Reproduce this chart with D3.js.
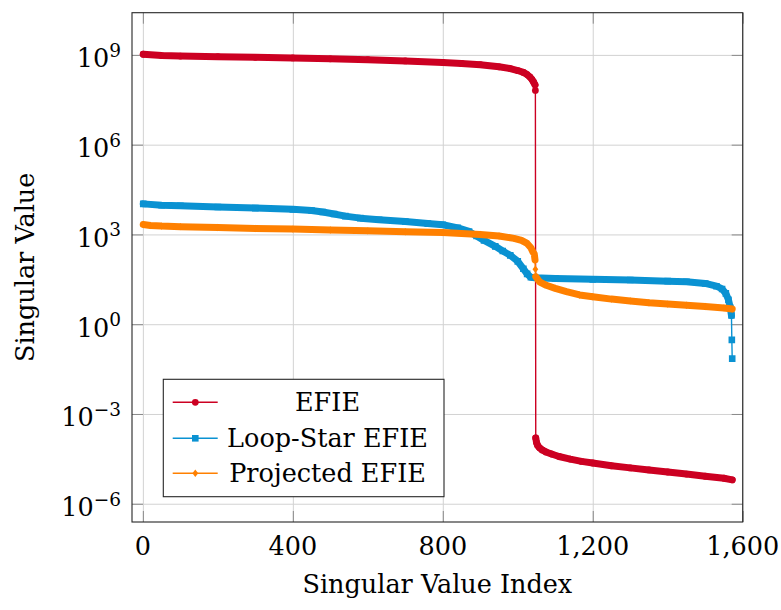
<!DOCTYPE html>
<html>
<head>
<meta charset="utf-8">
<script src="https://cdn.jsdelivr.net/npm/d3@7"></script>
<style>
  html, body { margin: 0; padding: 0; background: #fff; }
  svg { display: block; }
</style>
</head>
<body>
<svg id="chart" width="781" height="610"></svg>
<script>
// Singular value spectra (index, value) of the three formulations
const efieIdx = [1, 50, 100, 200, 300, 400, 500, 600, 700, 800, 850, 900, 950, 980, 1000, 1015, 1025, 1032, 1038, 1042, 1046, 1047,
  1048, 1050, 1053, 1058, 1065, 1075, 1090, 1110, 1140, 1170, 1200, 1250, 1300, 1350, 1400, 1450, 1500, 1550, 1572];
const efieVal = [1.05e9, 9.5e8, 9.1e8, 8.7e8, 8.3e8, 7.9e8, 7.4e8, 6.9e8, 6.3e8, 5.6e8, 5.2e8, 4.7e8, 4.0e8, 3.5e8, 3.0e8, 2.6e8, 2.2e8, 1.85e8, 1.5e8, 1.25e8, 1.0e8, 6.5e7,
  1.58e-4, 1.12e-4, 8.9e-5, 7.4e-5, 6.3e-5, 5.4e-5, 4.6e-5, 3.8e-5, 3.1e-5, 2.6e-5, 2.3e-5, 1.86e-5, 1.58e-5, 1.35e-5, 1.15e-5, 9.8e-6, 8.3e-6, 7.1e-6, 6.3e-6];

const loopIdx = [1, 50, 100, 200, 300, 400, 450, 480, 510, 540, 580, 630, 700, 760, 800, 840, 870, 890, 910, 940, 960, 980, 1000, 1015, 1025, 1035, 1045,
  1100, 1200, 1300, 1400, 1450, 1500, 1530, 1545, 1555, 1562, 1567, 1570, 1571, 1572];
const loopVal = [1.05e4, 9.5e3, 9.1e3, 8.3e3, 7.6e3, 6.9e3, 6.3e3, 5.6e3, 4.8e3, 4.1e3, 3.5e3, 3.1e3, 2.7e3, 2.3e3, 2.1e3, 1.66e3, 1.26e3, 890, 630, 400, 280, 200, 126, 71, 48, 37, 35.5,
  34, 31.6, 30, 27.5, 26.3, 23, 18.6, 15.1, 10.7, 6.6, 3.5, 1.95, 0.3, 0.071];

const projIdx = [1, 20, 50, 100, 200, 300, 400, 500, 600, 700, 800, 900, 950, 990, 1010, 1025, 1035, 1041, 1044, 1046, 1047, 1048,
  1053, 1058, 1076, 1100, 1130, 1165, 1200, 1250, 1300, 1350, 1400, 1450, 1500, 1550, 1572];
const projVal = [2.14e3, 2.0e3, 1.9e3, 1.82e3, 1.7e3, 1.58e3, 1.51e3, 1.41e3, 1.32e3, 1.23e3, 1.15e3, 1.0e3, 890, 740, 630, 500, 360, 250, 224, 141, 69, 39,
  32, 26, 20, 15.8, 12.3, 9.5, 8.3, 6.9, 6.0, 5.2, 4.7, 4.3, 3.9, 3.5, 3.2];

const seriesNames = ["EFIE", "Loop-Star EFIE", "Projected EFIE"];
const seriesColors = ["#cc0022", "#0a92d2", "#ff8000"];
const seriesMarks = ["circle", "square", "diamond"];

const xTicks = [0, 400, 800, 1200, 1600];
const xTickLabels = ["0", "400", "800", "1,200", "1,600"];
const yTickExps = [-6, -3, 0, 3, 6, 9];

const xLabel = "Singular Value Index";
const yLabel = "Singular Value";

// ---- layout ----
const svg = d3.select("#chart");
const FONT = "'DejaVu Serif', serif";
const plot = { left: 132, top: 12.7, right: 742.7, bottom: 522 };
const W = plot.right - plot.left, H = plot.bottom - plot.top;
const FS = 25.5;

const x = d3.scaleLinear().domain([-29, 1600]).range([plot.left, plot.right]);
const y = d3.scaleLog().domain([Math.pow(10, -6.61), Math.pow(10, 10.41)]).range([plot.bottom, plot.top]);
const yTicks = yTickExps.map(e => Math.pow(10, e));

const gridColor = "#d2d2d2";
const tickColor = "#8a8a8a";

// grid
svg.append("g")
  .attr("transform", `translate(0,${plot.bottom})`)
  .call(d3.axisBottom(x).tickValues(xTicks).tickSize(-H).tickFormat(""))
  .call(g => g.select(".domain").remove())
  .call(g => g.selectAll("line").attr("stroke", gridColor).attr("stroke-width", 1));
svg.append("g")
  .attr("transform", `translate(${plot.left},0)`)
  .call(d3.axisLeft(y).tickValues(yTicks).tickSize(-W).tickFormat(""))
  .call(g => g.select(".domain").remove())
  .call(g => g.selectAll("line").attr("stroke", gridColor).attr("stroke-width", 1));

// inner tick marks on all four sides
const TL = 11;
function styleTicks(g) {
  g.select(".domain").remove();
  g.selectAll("line").attr("stroke", tickColor).attr("stroke-width", 1);
}
svg.append("g").attr("transform", `translate(0,${plot.bottom})`)
  .call(d3.axisBottom(x).tickValues(xTicks).tickSize(-TL).tickFormat("")).call(styleTicks);
svg.append("g").attr("transform", `translate(0,${plot.top})`)
  .call(d3.axisTop(x).tickValues(xTicks).tickSize(-TL).tickFormat("")).call(styleTicks);
svg.append("g").attr("transform", `translate(${plot.left},0)`)
  .call(d3.axisLeft(y).tickValues(yTicks).tickSize(-TL).tickFormat("")).call(styleTicks);
svg.append("g").attr("transform", `translate(${plot.right},0)`)
  .call(d3.axisRight(y).tickValues(yTicks).tickSize(-TL).tickFormat("")).call(styleTicks);

// frame
svg.append("rect")
  .attr("x", plot.left).attr("y", plot.top).attr("width", W).attr("height", H)
  .attr("fill", "none").attr("stroke", "#262626").attr("stroke-width", 1.1);

// tick labels
svg.append("g").selectAll("text").data(xTicks).join("text")
  .attr("x", d => x(d)).attr("y", plot.bottom + 33)
  .attr("text-anchor", "middle").attr("font-family", FONT).attr("font-size", FS)
  .text((d, i) => xTickLabels[i]);

const yl = svg.append("g").selectAll("text").data(yTickExps).join("text")
  .attr("text-anchor", "end").attr("font-family", FONT).attr("font-size", FS)
  .attr("x", 121).attr("y", d => y(Math.pow(10, d)) + 12.5);
yl.append("tspan").text("10");
yl.append("tspan").attr("font-size", 18.5).attr("dy", -10.5)
  .text(d => (d < 0 ? "\u2212" : "") + Math.abs(d));

// axis titles
svg.append("text").attr("x", (plot.left + plot.right) / 2).attr("y", 593)
  .attr("text-anchor", "middle").attr("font-family", FONT).attr("font-size", FS).text(xLabel);
svg.append("text").attr("transform", `translate(34,${(plot.top + plot.bottom) / 2}) rotate(-90)`)
  .attr("text-anchor", "middle").attr("font-family", FONT).attr("font-size", FS).text(yLabel);

// ---- data ----
svg.append("clipPath").attr("id", "clip").append("rect")
  .attr("x", plot.left).attr("y", plot.top).attr("width", W).attr("height", H);
const dataG = svg.append("g").attr("clip-path", "url(#clip)");

const BAND = 7;
function markPath(kind, cx, cy) {
  if (kind === "circle") {
    const r = 3.4;
    return `M${cx - r},${cy}a${r},${r} 0 1,0 ${2 * r},0a${r},${r} 0 1,0 ${-2 * r},0Z`;
  }
  if (kind === "square") {
    const s = 3.3;
    return `M${cx - s},${cy - s}h${2 * s}v${2 * s}h${-2 * s}Z`;
  }
  const hw = 2.9, hh = 3.7;
  return `M${cx},${cy - hh}L${cx + hw},${cy}L${cx},${cy + hh}L${cx - hw},${cy}Z`;
}

const allSeries = [
  { idx: efieIdx, val: efieVal },
  { idx: loopIdx, val: loopVal },
  { idx: projIdx, val: projVal }
];

const line = d3.line().x(d => x(d.i)).y(d => y(d.v));

allSeries.forEach((s, k) => {
  const pts = s.idx.map((i, j) => ({ i, v: s.val[j] }));
  const col = seriesColors[k];
  const g = dataG.append("g");
  // thin connecting line through all values
  g.append("path").attr("d", line(pts)).attr("fill", "none")
    .attr("stroke", col).attr("stroke-width", 1.4);
  // runs where indices are tightly packed render as a solid band of marks
  let run = [pts[0]];
  const runs = [];
  for (let j = 1; j < pts.length; j++) {
    if (pts[j].i - pts[j - 1].i > 1) run.push(pts[j]);
    else { if (run.length > 1) runs.push(run); run = [pts[j]]; }
  }
  if (run.length > 1) runs.push(run);
  runs.forEach(r => g.append("path").attr("d", line(r)).attr("fill", "none")
    .attr("stroke", col).attr("stroke-width", BAND)
    .attr("stroke-linecap", "round").attr("stroke-linejoin", "round"));
  g.selectAll("path.mk").data(pts).join("path").attr("class", "mk")
    .attr("d", d => markPath(seriesMarks[k], x(d.i), y(d.v)))
    .attr("fill", col);
});

// ---- legend ----
const lg = svg.append("g");
lg.append("rect").attr("x", 163.3).attr("y", 379.3).attr("width", 280.7).attr("height", 117.4)
  .attr("fill", "#fff").attr("stroke", "#262626").attr("stroke-width", 1.1);
const rowY = [402.3, 438.3, 473.3];
seriesNames.forEach((name, k) => {
  const cy = rowY[k];
  lg.append("line").attr("x1", 172.7).attr("x2", 217.7).attr("y1", cy).attr("y2", cy)
    .attr("stroke", seriesColors[k]).attr("stroke-width", 1.4);
  lg.append("path").attr("d", markPath(seriesMarks[k], 195.3, cy)).attr("fill", seriesColors[k]);
  lg.append("text").attr("x", 327.5).attr("y", cy + 9).attr("text-anchor", "middle")
    .attr("font-family", FONT).attr("font-size", FS).text(name);
});
</script>
</body>
</html>
